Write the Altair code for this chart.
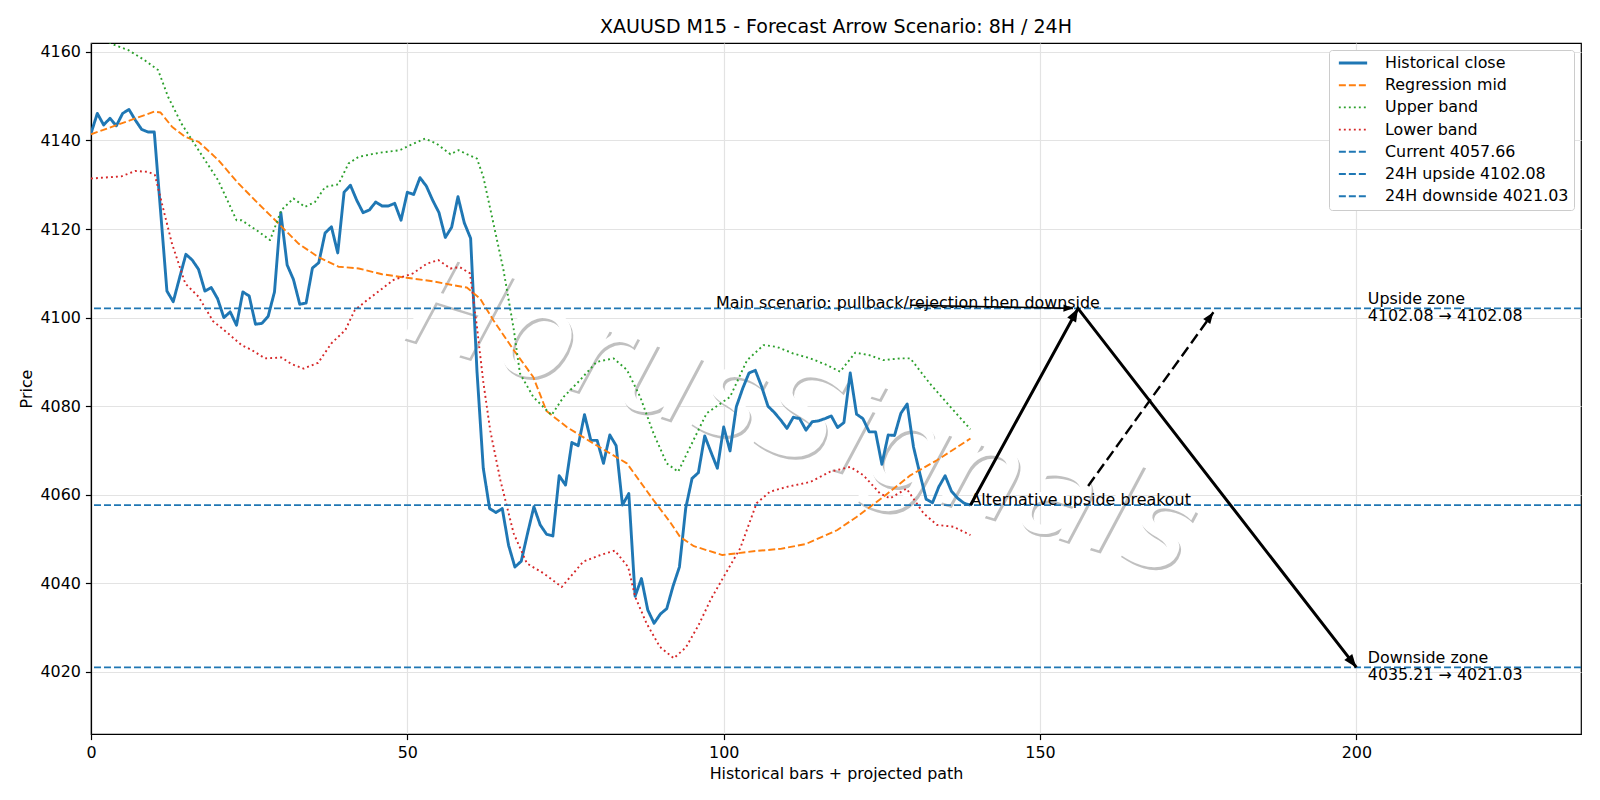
import math

import altair as alt
import pandas as pd

# ---- price history (M15 closes, bar index 0..139) ----
hist_close = [
    4141.6, 4146.1, 4143.5, 4145.0, 4143.3, 4146.1, 4147.0, 4144.6, 4142.5, 4141.9,
    4141.9, 4124.0, 4106.0, 4103.6, 4109.0, 4114.3, 4113.0, 4110.9, 4106.0, 4106.8,
    4104.3, 4100.0, 4101.3, 4098.3, 4105.8, 4104.9, 4098.5, 4098.7, 4100.3, 4105.8,
    4123.7, 4111.9, 4108.6, 4103.0, 4103.3, 4111.2, 4112.4, 4119.1, 4120.5, 4114.6,
    4128.3, 4129.9, 4126.5, 4123.7, 4124.3, 4126.1, 4125.2, 4125.2, 4125.8, 4122.0,
    4128.3, 4127.8, 4131.6, 4129.7, 4126.5, 4123.7, 4118.1, 4120.4, 4127.3, 4121.4,
    4117.9, 4088.0, 4066.0, 4056.9, 4056.0, 4056.9, 4048.6, 4043.7, 4045.0, 4051.3,
    4057.3, 4053.2, 4051.1, 4050.7, 4064.3, 4062.2, 4071.8, 4071.1, 4078.1, 4072.3,
    4072.3, 4067.1, 4073.5, 4071.1, 4057.7, 4060.3, 4037.1, 4041.1, 4034.0, 4031.0,
    4033.1, 4034.3, 4039.4, 4043.7, 4057.0, 4063.7, 4065.0, 4073.3, 4069.6, 4066.0,
    4075.3, 4069.9, 4079.9, 4084.0, 4087.5, 4088.1, 4084.4, 4080.0, 4078.6, 4076.9,
    4075.0, 4077.5, 4077.2, 4074.6, 4076.5, 4076.7, 4077.2, 4077.8, 4075.2, 4076.3,
    4087.5, 4078.2, 4077.2, 4074.2, 4074.2, 4066.9, 4073.5, 4073.4, 4078.4, 4080.5,
    4070.8, 4064.8, 4059.0, 4058.2, 4061.8, 4064.3, 4060.8, 4059.2, 4058.1, 4057.66,
]

# ---- regression channel ----
mid_x = [0, 10, 11, 12.8, 14.9, 17, 20.1, 23.3, 26.4, 29.6,
         32.8, 35.9, 39.1, 42.3, 46, 49.9, 54.1, 57.3, 59.4, 61.5,
         63.6, 66.8, 69.9, 72, 75.2, 79.4, 84.7, 88.9, 91.5, 93.1,
         95.3, 99.8, 105, 109, 113, 117.9, 121, 125.2, 129.5, 133.7, 139]
mid_y = [4141.4, 4146.5, 4146.3, 4143.1, 4140.8, 4139.7, 4135.6, 4130.3, 4125.8, 4121.3,
         4116.7, 4113.7, 4111.5, 4111.1, 4109.8, 4109.0, 4108.2, 4107.3, 4106.8, 4104.3,
         4099.4, 4092.7, 4086.6, 4078.9, 4075.3, 4071.6, 4067.1, 4058.8, 4053.9, 4050.5,
         4048.4, 4046.4, 4047.3, 4047.8, 4048.9, 4052.0, 4055.0, 4059.5, 4064.4, 4067.8, 4072.7]

upper_x = [0, 2, 3.8, 5.9, 8.5, 10.6, 12.2, 14.3, 17, 20.1,
           23, 23.8, 26.5, 28.3, 30.1, 32, 33.8, 35.4, 37, 39.1,
           40.7, 42.3, 44.4, 46, 48.8, 50.4, 52.8, 54.6, 56.8, 58.1,
           59.4, 61, 62, 63.6, 65.2, 66.8, 67.8, 69.9, 72, 72.8,
           74.7, 77.3, 79.9, 82.6, 84.7, 86.8, 88.9, 91, 92.8, 94.7,
           97.3, 101, 103.7, 106.3, 108.4, 111, 113.7, 116.3, 118.4, 120.8,
           123.1, 125.2, 127.9, 129.5, 132.6, 135.8, 139]
upper_y = [4164.0, 4162.8, 4161.5, 4160.4, 4158.1, 4155.9, 4149.8, 4143.8, 4137.8, 4131.0,
           4122.0, 4122.0, 4119.4, 4117.5, 4124.3, 4126.9, 4125.0, 4126.1, 4129.5, 4130.1,
           4134.8, 4136.3, 4136.9, 4137.3, 4137.8, 4138.9, 4140.4, 4139.3, 4136.9, 4137.8,
           4136.9, 4135.9, 4131.8, 4121.3, 4110.7, 4097.5, 4087.4, 4082.1, 4079.1, 4078.0,
           4082.1, 4085.9, 4090.0, 4090.8, 4088.2, 4082.1, 4073.9, 4067.1, 4065.2, 4070.8,
           4078.4, 4082.1, 4090.4, 4093.8, 4093.4, 4091.9, 4090.8, 4089.3, 4087.8, 4092.1,
           4091.5, 4090.4, 4090.8, 4090.8, 4085.1, 4079.9, 4074.8]

lower_x = [0, 4.8, 7, 9.1, 10.1, 11.2, 12.8, 14.9, 17, 19.3,
           21.7, 23.8, 25.4, 27.5, 30.1, 31.7, 33.6, 35.9, 38, 40.2,
           41.7, 43.6, 45.7, 47.8, 50.9, 53.1, 54.9, 56.8, 58.3, 59.9,
           61, 62, 63.1, 64.7, 66.8, 68.9, 71.5, 74.4, 77.8, 80.5,
           82.8, 84.9, 86, 87.8, 89.9, 92.1, 94, 96, 98, 100,
           102.6, 105.2, 107.3, 110, 113.7, 116.8, 120, 122.1, 124.7, 126.3,
           128.9, 131.6, 133.7, 136.3, 139]
lower_y = [4131.4, 4131.9, 4133.1, 4132.9, 4132.2, 4125.8, 4116.7, 4107.7, 4104.7, 4099.2,
           4096.4, 4093.8, 4092.7, 4090.8, 4091.0, 4089.5, 4088.5, 4089.8, 4094.2, 4097.2,
           4101.7, 4103.9, 4106.2, 4108.5, 4110.0, 4112.2, 4113.0, 4111.1, 4111.4, 4110.0,
           4097.9, 4085.5, 4074.5, 4063.3, 4051.3, 4044.5, 4042.3, 4039.2, 4044.9, 4046.4,
           4047.4, 4043.7, 4037.0, 4031.0, 4025.7, 4023.1, 4025.5, 4030.5, 4036.5, 4041.5,
           4047.9, 4058.1, 4060.7, 4061.8, 4062.9, 4065.2, 4066.3, 4064.4, 4060.3, 4059.2,
           4061.4, 4055.8, 4053.2, 4052.8, 4050.9]

# ---- key levels ----
current_price = 4057.66
upside_24h = 4102.08
downside_24h = 4021.03
downside_near = 4035.21

# ---- projected scenario paths ----
main_path_x = [139, 156, 200]
main_path_y = [current_price, upside_24h, downside_24h]
alt_path_x = [157.6, 177.4]
alt_path_y = [4062.0, 4101.2]
note_path_x = [129.5, 155.2]
note_path_y = [4102.8, 4102.1]

series_names = [
    "Historical close", "Regression mid", "Upper band", "Lower band",
    f"Current {current_price:.2f}", f"24H upside {upside_24h:.2f}", f"24H downside {downside_24h:.2f}",
]
series_colors = ["#1f77b4", "#ff7f0e", "#2ca02c", "#d62728", "#1f77b4", "#1f77b4", "#1f77b4"]
DASHED = [7, 3]
DOTTED = [1.9, 3.1]
series_dash = [[1, 0], DASHED, DOTTED, DOTTED, DASHED, DASHED, DASHED]
series_width = [2.9, 1.9, 1.9, 1.9, 1.9, 1.9, 1.9]

FONT = "DejaVu Sans"
FS = 15.9
W, H = 1490, 691
X_DOMAIN = [0, 235.5]
Y_DOMAIN = [4006, 4162]

xs = alt.Scale(domain=X_DOMAIN, nice=False, zero=False)
ys = alt.Scale(domain=Y_DOMAIN, nice=False, zero=False)
X_ENC = alt.X("x:Q", scale=xs,
              axis=alt.Axis(values=[0, 50, 100, 150, 200], format="d", labelFlush=False,
                            title="Historical bars + projected path", titlePadding=5))
Y_ENC = alt.Y("y:Q", scale=ys,
              axis=alt.Axis(values=list(range(4020, 4161, 20)), format="d", labelFlush=False,
                            title="Price", titlePadding=5))


def frame(name, xv, yv):
    return pd.DataFrame({"series": name, "x": xv, "y": yv})


lines_df = pd.concat([
    frame(series_names[0], list(range(len(hist_close))), hist_close),
    frame(series_names[1], mid_x, mid_y),
    frame(series_names[2], upper_x, upper_y),
    frame(series_names[3], lower_x, lower_y),
], ignore_index=True)

levels_df = pd.DataFrame({
    "series": series_names[4:],
    "y": [current_price, upside_24h, downside_24h],
})

color_enc = alt.Color("series:N", scale=alt.Scale(domain=series_names, range=series_colors),
                      legend=alt.Legend(title=None))
dash_enc = alt.StrokeDash("series:N", scale=alt.Scale(domain=series_names, range=series_dash),
                          legend=alt.Legend(title=None))
width_enc = alt.StrokeWidth("series:N",
                            scale=alt.Scale(type="ordinal", domain=series_names, range=series_width),
                            legend=alt.Legend(title=None))

# watermark: light shadow copy under a white face
wm_df = pd.DataFrame({"x": [112.2], "y": [4077.0], "t": ["HorusSignals"]})
wm_style = dict(font=FONT, fontSize=125, fontStyle="italic", angle=17, align="center",
                baseline="middle")
wm_shadow = alt.Chart(wm_df).mark_text(color="#c0c0c0", dx=2.5, dy=2.5, **wm_style).encode(
    x=X_ENC, y=Y_ENC, text="t:N")
wm_face = alt.Chart(wm_df).mark_text(color="#ffffff", **wm_style).encode(
    x=X_ENC, y=Y_ENC, text="t:N")

lines = alt.Chart(lines_df).mark_line(clip=True, strokeJoin="round").encode(
    x=X_ENC, y=Y_ENC,
    color=color_enc, strokeDash=dash_enc, strokeWidth=width_enc, detail="series:N",
)

levels = alt.Chart(levels_df).mark_rule().encode(
    y=Y_ENC, color=color_enc, strokeDash=dash_enc, strokeWidth=width_enc,
)

main_df = pd.DataFrame({"x": main_path_x, "y": main_path_y})
alt_df = pd.DataFrame({"x": alt_path_x, "y": alt_path_y})
note_df = pd.DataFrame({"x": note_path_x, "y": note_path_y})

main_arrow = alt.Chart(main_df).mark_line(color="black", strokeWidth=3, strokeJoin="miter").encode(
    x=X_ENC, y=Y_ENC)
alt_arrow = alt.Chart(alt_df).mark_line(color="black", strokeWidth=2.4, strokeDash=[11, 5]).encode(
    x=X_ENC, y=Y_ENC)
note_arrow = alt.Chart(note_df).mark_line(color="black", strokeWidth=1.7).encode(
    x=X_ENC, y=Y_ENC)

# arrow heads oriented along each segment in screen space
sx = W / (X_DOMAIN[1] - X_DOMAIN[0])
sy = H / (Y_DOMAIN[1] - Y_DOMAIN[0])


def head(x0, y0, x1, y1, kind):
    ang = math.degrees(math.atan2(-(y1 - y0) * sy, (x1 - x0) * sx)) % 360
    return {"x": x1, "y": y1, "angle": ang, "kind": kind}


heads_df = pd.DataFrame([
    head(main_path_x[0], main_path_y[0], main_path_x[1], main_path_y[1], "big"),
    head(main_path_x[1], main_path_y[1], main_path_x[2], main_path_y[2], "big"),
    head(alt_path_x[0], alt_path_y[0], alt_path_x[1], alt_path_y[1], "mid"),
    head(note_path_x[0], note_path_y[0], note_path_x[1], note_path_y[1], "small"),
])
HEAD = "M0,0L-1,-0.38L-1,0.38Z"


def heads(kind, size):
    return alt.Chart(heads_df).transform_filter(alt.datum.kind == kind).mark_point(
        shape=HEAD, filled=True, color="black", size=size, opacity=1,
    ).encode(x=X_ENC, y=Y_ENC, angle=alt.Angle("angle:Q", scale=None))


notes_df = pd.DataFrame({
    "x": [98.8, 139],
    "y": [upside_24h, current_price],
    "t": ["Main scenario: pullback/rejection then downside", "Alternative upside breakout"],
})
notes = alt.Chart(notes_df).mark_text(
    font=FONT, fontSize=FS, align="left", baseline="alphabetic", color="black",
).encode(x=X_ENC, y=Y_ENC, text="t:N")

zones_df = pd.DataFrame({
    "x": [201.8, 201.8],
    "y": [upside_24h, downside_24h],
    "t": [f"Upside zone\n{upside_24h:.2f} \u2192 {upside_24h:.2f}",
          f"Downside zone\n{downside_near:.2f} \u2192 {downside_24h:.2f}"],
})
zones = alt.Chart(zones_df).mark_text(
    font=FONT, fontSize=FS, align="left", baseline="middle", color="black",
    lineBreak="\n", lineHeight=17, dy=-9,
).encode(x=X_ENC, y=Y_ENC, text="t:N")

chart = alt.layer(
    wm_shadow, wm_face, lines, levels, main_arrow, alt_arrow, note_arrow,
    heads("big", 700), heads("mid", 520), heads("small", 360), notes, zones,
).properties(
    width=W, height=H,
    title=alt.TitleParams("XAUUSD M15 - Forecast Arrow Scenario: 8H / 24H",
                          font=FONT, fontSize=19, fontWeight="normal", color="black",
                          anchor="middle", offset=6),
    autosize=alt.AutoSizeParams(type="none"),
    padding={"left": 91, "top": 43, "right": 19, "bottom": 66},
    background="white",
).configure_view(
    stroke="black", strokeWidth=1.2,
).configure_axis(
    grid=True, gridColor="#e3e3e3", gridWidth=1.2,
    domainColor="black", domainWidth=1.2,
    tickColor="black", tickSize=5.6, tickWidth=1.2,
    labelFont=FONT, labelFontSize=FS, labelColor="black", labelPadding=5,
    titleFont=FONT, titleFontSize=FS, titleFontWeight="normal", titleColor="black",
).configure_legend(
    orient="top-right", offset=7, symbolType="stroke", symbolSize=800,
    labelFont=FONT, labelFontSize=FS, labelColor="black", labelOffset=16, labelLimit=400,
    strokeColor="#cccccc", fillColor="white", padding=5, cornerRadius=3,
    clipHeight=16, rowPadding=6.2, symbolOffset=3,
)

chart.save("out.html", embed_options={"renderer": "svg", "actions": False})
